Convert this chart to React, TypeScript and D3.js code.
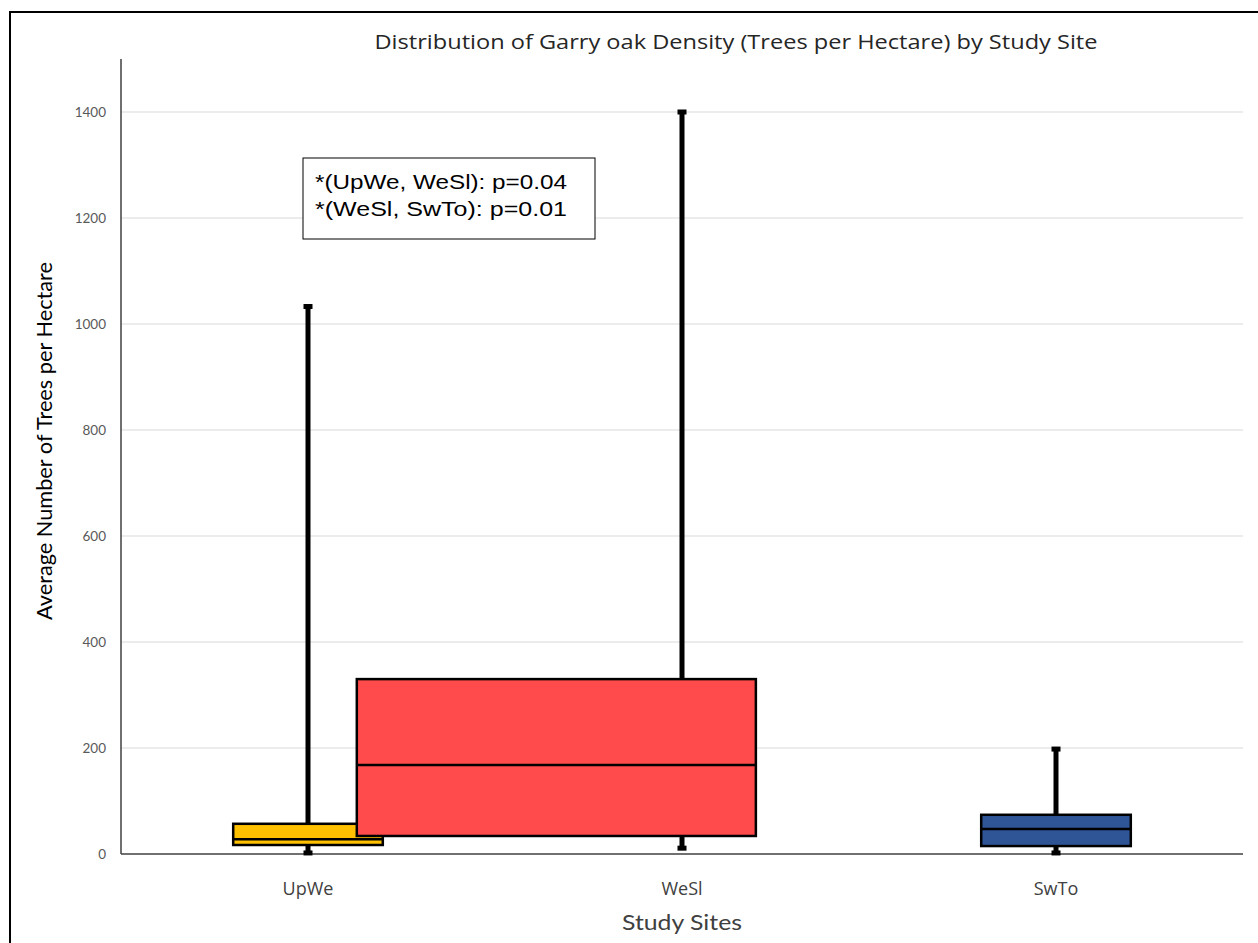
import React from "react";
import * as d3 from "d3";

// Study sites and their five-number summaries (trees per hectare)
const sites = ["UpWe", "WeSl", "SwTo"];
const minValues = [2, 11, 2];
const q1Values = [17, 34, 15];
const medianValues = [28, 168, 47];
const q3Values = [57, 330, 74];
const maxValues = [1033, 1400, 198];

const yTicks = [0, 200, 400, 600, 800, 1000, 1200, 1400];
const annotationLines = ["*(UpWe, WeSl): p=0.04", "*(WeSl, SwTo): p=0.01"];

// Presentation: fill colours and box geometry relative to each site's band
const fills = ["#FFC000", "#FF4B4B", "#2F5597"];
const boxWidthFrac = [0.4, 1.067, 0.4];
const boxCenterShift = [0, -0.336, 0];

const W = 1258;
const H = 943;
const margin = { left: 121, right: 15, top: 59, bottom: 89 };

export default function App() {
  const x = d3
    .scaleBand<string>()
    .domain(sites)
    .range([margin.left, W - margin.right])
    .padding(0);
  const y = d3
    .scaleLinear()
    .domain([0, 1500])
    .range([H - margin.bottom, margin.top]);

  const bw = x.bandwidth();
  const font = "Lato, 'Open Sans', sans-serif";
  const titleFont = "'Open Sans', Lato, sans-serif";
  const x0 = margin.left;
  const x1 = W - margin.right;
  const yBase = y(0);

  return (
    <svg
      width={W}
      height={H}
      style={{ position: "absolute", left: 0, top: 0, background: "#fff" }}
    >
      {/* frame */}
      <rect x={10} y={12} width={W + 10} height={H + 10} fill="#fff" stroke="#000" strokeWidth={2} />

      {/* title */}
      <text
        x={736}
        y={49}
        textAnchor="middle"
        fontFamily={titleFont}
        fontSize={20}
        fill="#262626"
        textLength={723}
        lengthAdjust="spacingAndGlyphs"
      >
        Distribution of Garry oak Density (Trees per Hectare) by Study Site
      </text>

      {/* gridlines */}
      {yTicks
        .filter((t) => t > 0)
        .map((t) => (
          <line key={t} x1={x0} x2={x1} y1={y(t)} y2={y(t)} stroke="#d9d9d9" strokeWidth={1} />
        ))}

      {/* y tick labels */}
      {yTicks.map((t) => (
        <text
          key={t}
          x={106}
          y={y(t)}
          dy="0.35em"
          textAnchor="end"
          fontFamily={font}
          fontSize={13.5}
          fill="#595959"
        >
          {t}
        </text>
      ))}

      {/* axes */}
      <line x1={x0} x2={x0} y1={y(1500)} y2={yBase} stroke="#404040" strokeWidth={1.5} />
      <line x1={x0} x2={x1} y1={yBase} y2={yBase} stroke="#404040" strokeWidth={1.5} />

      {/* boxes */}
      {sites.map((s, i) => {
        const cx = (x(s) as number) + bw / 2;
        const boxW = bw * boxWidthFrac[i];
        const bcx = cx + bw * boxCenterShift[i];
        const bx = bcx - boxW / 2;
        return (
          <g key={s}>
            {/* upper whisker */}
            <line x1={cx} x2={cx} y1={y(maxValues[i])} y2={y(q3Values[i])} stroke="#000" strokeWidth={5} />
            <rect x={cx - 4.5} y={y(maxValues[i]) - 2.5} width={9} height={5} fill="#000" />
            {/* lower whisker */}
            <line x1={cx} x2={cx} y1={y(q1Values[i])} y2={y(minValues[i])} stroke="#000" strokeWidth={5} />
            <rect x={cx - 4.5} y={y(minValues[i]) - 2.5} width={9} height={5} fill="#000" />
            {/* box */}
            <rect
              x={bx}
              y={y(q3Values[i])}
              width={boxW}
              height={y(q1Values[i]) - y(q3Values[i])}
              fill={fills[i]}
              stroke="#000"
              strokeWidth={2.5}
            />
            <line
              x1={bx}
              x2={bx + boxW}
              y1={y(medianValues[i])}
              y2={y(medianValues[i])}
              stroke="#000"
              strokeWidth={2.5}
            />
            {/* category label */}
            <text x={cx} y={895} textAnchor="middle" fontFamily={titleFont} fontSize={18} fill="#404040">
              {s}
            </text>
          </g>
        );
      })}

      {/* axis titles */}
      <text
        x={682}
        y={930}
        textAnchor="middle"
        fontFamily={font}
        fontSize={21}
        fill="#404040"
        textLength={120}
        lengthAdjust="spacingAndGlyphs"
      >
        Study Sites
      </text>
      <text
        transform={`translate(52, 441) rotate(-90)`}
        textAnchor="middle"
        fontFamily={font}
        fontSize={21.5}
        fill="#000"
        textLength={358}
        lengthAdjust="spacingAndGlyphs"
      >
        Average Number of Trees per Hectare
      </text>

      {/* significance note */}
      <rect x={303} y={158} width={292} height={81} fill="#fff" stroke="#000" strokeWidth={1} />
      {annotationLines.map((t, k) => (
        <text
          key={k}
          x={315}
          y={189 + k * 27}
          fontFamily="'Liberation Sans', Arial, sans-serif"
          fontSize={21}
          fill="#000"
          textLength={252}
          lengthAdjust="spacingAndGlyphs"
        >
          {t}
        </text>
      ))}
    </svg>
  );
}
